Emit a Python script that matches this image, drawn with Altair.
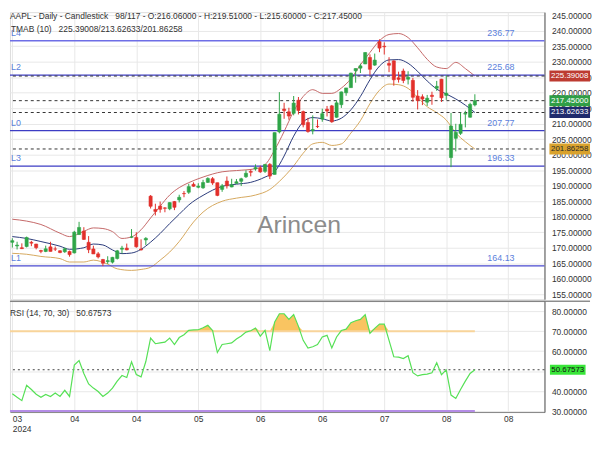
import altair as alt
import pandas as pd

# ---------------- data ----------------
opens = [171.76,170.57,170.00,170.41,171.75,171.19,169.08,168.79,170.29,169.59,
         169.03,168.70,168.80,168.34,174.26,175.36,171.75,169.61,168.03,166.21,
         165.52,165.35,166.54,169.53,169.88,173.37,173.33,169.58,172.51,186.65,
         182.35,183.45,182.85,182.56,184.90,185.44,187.51,187.91,190.47,189.51,
         189.33,191.09,192.27,190.98,188.82,191.51,189.61,190.76,191.44,192.90,
         194.64,195.40,195.69,194.65,196.90,193.65,207.37,214.74,213.85,213.37,
         217.59,213.93,210.39,207.72,209.15,211.50,214.69,215.77,212.09,216.15,
         220.00,221.65,227.09,227.93,229.30,231.39,228.92,236.48,235.00,229.45,
         230.28,224.82,227.01,224.37,224.00,218.93,218.70,216.96,219.19,221.44,
         224.37,219.15,199.09,205.30,206.90,213.11,212.10,216.06]
highs = [173.05,171.94,171.42,173.60,172.23,171.25,169.34,170.68,171.92,170.39,
         169.20,170.08,169.09,175.46,178.36,176.63,173.76,170.65,168.64,166.40,
         167.26,167.05,169.30,170.61,171.34,176.03,174.99,172.71,173.42,187.00,
         184.20,184.90,183.07,184.66,185.09,187.10,188.30,190.65,191.10,190.81,
         191.92,192.73,192.82,191.00,190.58,193.00,192.25,192.18,192.57,194.99,
         195.32,196.90,196.50,196.94,197.30,207.16,220.20,216.75,215.17,218.95,
         218.63,214.24,211.89,212.70,211.38,214.86,215.74,216.07,217.51,220.38,
         221.55,226.45,227.85,229.40,233.08,232.39,232.64,237.23,236.27,231.46,
         230.44,226.80,227.78,226.94,224.80,220.85,219.49,219.30,220.33,223.82,
         224.48,225.60,213.50,209.99,213.64,214.20,216.78,219.51]
lows = [170.06,169.45,169.58,170.11,170.51,169.48,168.23,168.58,168.82,168.95,
        168.24,168.35,167.11,168.16,174.21,172.50,168.27,168.00,166.55,164.08,
        164.77,164.92,166.21,168.15,169.18,173.10,170.00,169.11,170.89,182.66,
        180.42,181.32,181.45,182.11,182.13,184.62,186.29,187.37,189.66,189.18,
        189.01,190.92,190.27,186.63,188.04,189.10,189.51,190.63,189.91,192.52,
        193.03,194.87,194.17,194.14,192.15,193.63,206.90,211.60,211.30,212.72,
        213.00,208.85,207.11,206.59,208.61,210.64,212.35,210.30,211.92,215.10,
        219.03,221.65,223.25,226.37,229.25,225.77,228.68,233.09,232.33,226.64,
        222.27,223.28,223.09,222.68,217.13,214.62,216.01,215.75,216.12,220.63,
        217.02,217.71,196.00,201.07,206.39,208.83,211.97,215.60]
closes = [172.28,170.85,169.71,173.31,171.48,170.03,168.84,169.65,168.82,169.58,
          168.45,169.67,167.78,175.04,176.55,172.69,169.38,168.00,167.04,165.00,
          165.84,166.90,169.02,169.89,169.30,173.50,170.33,169.30,173.03,183.38,
          181.71,182.40,182.74,184.57,183.05,186.28,187.43,189.72,189.84,189.87,
          191.04,192.35,190.90,186.88,189.98,189.99,190.29,191.29,192.25,194.03,
          194.35,195.87,194.48,196.89,193.12,207.15,213.07,214.24,212.49,216.67,
          214.29,209.68,207.49,208.14,209.07,213.25,214.10,210.62,216.75,220.27,
          221.55,226.34,227.82,228.68,232.98,227.57,230.54,234.40,234.82,228.88,
          224.18,224.31,223.96,225.01,218.54,217.49,217.96,218.24,218.80,222.08,
          218.36,219.86,209.27,207.23,209.82,213.31,216.24,217.45]

rsi_vals = [38.7,36.9,35.2,42.9,40.8,38.4,36.9,38.3,37.3,39.0,
            37.3,40.4,37.3,53.0,55.3,48.8,43.6,41.5,39.8,37.3,
            39.0,41.5,45.0,47.8,46.8,54.6,48.3,47.1,54.8,66.5,
            63.7,64.1,64.5,66.5,63.3,66.8,68.2,70.4,70.6,70.7,
            71.7,72.9,70.3,59.3,63.3,63.7,64.1,66.1,67.6,69.5,
            70.2,71.6,67.5,70.4,60.2,74.5,78.7,78.7,75.9,78.3,
            72.4,65.4,61.5,62.2,63.3,67.1,67.9,61.6,67.1,70.3,
            71.0,74.2,75.2,75.9,78.3,68.9,71.4,73.5,73.5,65.4,
            57.2,57.0,56.3,57.7,49.2,47.6,48.2,48.5,49.2,54.2,
            48.2,50.6,38.0,36.3,40.8,45.0,48.8,50.68]

upper_idx = [0,3,6,10,12,15,17,19,21,23,25,27,29,31,33,35,37,40,44,47,
             51,53,55,57,59,61,63,65,67,69,71,73,75,77,79,81,83,85,87,89,
             91,93,95,97]
upper_val = [179.2,178.6,177.5,174.7,173.6,175.3,176.4,176.2,175.2,173.0,
             173.5,175.8,179.6,183.4,187.0,189.4,191.0,192.8,194.5,194.9,
             195.5,196.8,201.5,207.5,214.0,218.8,221.0,219.8,219.8,221.5,
             224.5,229.0,233.0,236.8,238.8,239.1,237.8,234.5,230.8,228.3,
             227.8,229.8,227.8,225.39]
mid_idx = [0,3,6,10,12,15,17,19,21,23,25,27,29,31,33,35,37,40,44,47,
           50,53,55,57,59,61,63,65,67,69,71,73,75,77,79,81,83,85,87,89,
           91,93,95,97]
mid_val = [173.6,173.0,172.0,170.5,169.5,170.0,171.2,170.9,169.3,168.1,
           168.3,169.5,171.8,174.6,177.8,180.8,183.8,186.9,189.8,190.5,
           191.1,192.8,194.5,199.6,206.0,210.6,212.0,211.6,210.9,211.8,
           214.5,218.8,224.2,228.6,230.6,230.7,229.5,226.9,223.8,221.2,
           219.6,218.0,216.0,213.63]
low_idx = [0,3,6,10,12,15,17,20,22,25,27,29,31,33,35,38,40,44,47,51,
           54,56,59,61,63,65,67,69,71,73,75,77,79,81,83,85,87,89,91,93,
           95,97]
low_val = [168.2,167.9,167.2,166.5,165.4,165.4,166.0,164.7,163.2,162.7,
           163.0,163.7,166.0,168.6,172.0,178.3,181.5,185.0,186.0,187.0,
           188.8,191.4,196.4,200.5,203.5,204.0,203.0,203.5,207.0,211.0,
           216.5,220.8,222.8,222.6,221.4,218.5,215.5,213.6,211.2,207.0,
           204.2,201.86]

level_names = ["L4", "L2", "L0", "L3", "L1"]
level_vals = [236.77, 225.68, 207.77, 196.33, 164.13]
level_text = ["236.77", "225.68", "207.77", "196.33", "164.13"]
level_cols = ["#6e6ee6", "#3d3dc4", "#3d3dc4", "#3d3dc4", "#4a4ad0"]

dash_vals = [225.39008, 217.45, 213.62633, 201.86258]
badge_vals = [225.39008, 217.45000, 213.62633, 201.86258]
badge_text = ["225.39008", "217.45000", "213.62633", "201.86258"]
badge_fill = ["#bd3b31", "#2f9e46", "#1f2b6d", "#d9a22c"]
badge_tcol = ["#ffffff", "#ffffff", "#ffffff", "#2a2a2a"]

tick_idx = [0, 13, 26, 39, 52, 65, 78, 91, 104]
tick_lab = ["03", "04", "04", "05", "06", "06", "07", "08", "08"]
year_lab = "2024"
price_ticks = list(range(155, 250, 5))
rsi_ticks = [30, 40, 50, 60, 70, 80]
rsi_last = 50.67573
rsi_hi, rsi_lo = 70, 30

title1 = "AAPL - Daily - Candlestick\u00a0\u00a0\u00a098/117 - O:216.06000 - H:219.51000 - L:215.60000 - C:217.45000"
title2 = "TMAB (10)\u00a0\u00a0\u00a0225.39008/213.62633/201.86258"
rsi_title = "RSI (14, 70, 30)\u00a0\u00a0\u00a050.67573"
watermark = "Arincen"

# ---------------- styles ----------------
GREEN = "#2fa548"
RED = "#e2302b"
BAND_COLS = {"upper": "#c46868", "mid": "#2b3b7a", "lower": "#d6a85e"}
FONT = "Liberation Sans"
FS = 8.5
W, HP, HR = 540, 290, 112
XDOM = [-0.49, 111.6]

N = len(closes)
cdf = pd.DataFrame({"i": list(range(N)), "open": opens, "high": highs,
                    "low": lows, "close": closes})
cdf["col"] = [GREEN if c >= o else RED for o, c in zip(opens, closes)]

bands = pd.concat([
    pd.DataFrame({"band": "upper", "i": upper_idx, "v": upper_val}),
    pd.DataFrame({"band": "mid", "i": mid_idx, "v": mid_val}),
    pd.DataFrame({"band": "lower", "i": low_idx, "v": low_val}),
])
bands["col"] = bands["band"].map(BAND_COLS)

xscale = alt.Scale(domain=XDOM, nice=False, zero=False)
yscale = alt.Scale(domain=[153.4, 246.0], nice=False, zero=False)
rscale = alt.Scale(domain=[29.5, 85.0], nice=False, zero=False)

xaxis_p = alt.Axis(values=tick_idx, labels=False, ticks=False, domain=False,
                   grid=True, gridColor="#e8e8e8", title=None)
yaxis_p = alt.Axis(orient="right", values=price_ticks, format=".5f", grid=True,
                   gridColor="#e8e8e8", ticks=False, domain=True,
                   domainColor="#555", labelPadding=7, labelFontSize=FS,
                   labelColor="#333", title=None, labelFlush=False)

labs_js = "[" + ",".join("'%s'" % l for l in tick_lab) + "]"
idx_js = "[" + ",".join(str(t) for t in tick_idx) + "]"
xexpr = ("datum.value == %d ? ['%s', '%s'] : %s[indexof(%s, datum.value)]"
         % (tick_idx[0], tick_lab[0], year_lab, labs_js, idx_js))
xaxis_r = alt.Axis(values=tick_idx, labelExpr=xexpr, grid=True, gridColor="#e8e8e8",
                   ticks=False, domain=True, domainColor="#888", labelPadding=3,
                   labelFontSize=FS, labelLineHeight=9.5, labelColor="#333",
                   labelFlush=False, labelBaseline="top", title=None,
                   labelAlign={"condition": {"test": "datum.value <= 0", "value": "left"},
                               "value": "center"})
yaxis_r = alt.Axis(orient="right", values=rsi_ticks,
                   labelExpr="datum.value == 50 ? '' : format(datum.value, '.5f')",
                   grid=True, gridColor="#e8e8e8", ticks=False, domain=True,
                   domainColor="#555", labelPadding=7, labelFontSize=FS,
                   labelColor="#333", title=None, labelFlush=False)


def X(f):
    return alt.X(f, type="quantitative", scale=xscale, axis=xaxis_p)


def Y(f):
    return alt.Y(f, type="quantitative", scale=yscale, axis=yaxis_p)


def XR(f):
    return alt.X(f, type="quantitative", scale=xscale, axis=xaxis_r)


def YR(f):
    return alt.Y(f, type="quantitative", scale=rscale, axis=yaxis_r)


def C(f):
    return alt.Color(f, type="nominal", scale=None)


# ---------------- price panel ----------------
lv = pd.DataFrame({"name": level_names, "v": level_vals, "t": level_text, "col": level_cols})
dv = pd.DataFrame({"v": dash_vals})
bv = pd.DataFrame({"v": badge_vals, "t": badge_text, "f": badge_fill, "tc": badge_tcol})

base_grid = alt.Chart(cdf).mark_point(opacity=0).encode(x=X("i"), y=Y("close"))

band_lines = alt.Chart(bands).mark_line(interpolate="monotone", strokeWidth=1).encode(
    x=X("i"), y=Y("v"), color=C("col"), detail="band:N")

level_rules = alt.Chart(lv).mark_rule(strokeWidth=1.3).encode(y=Y("v"), color=C("col"))
dash_rules = alt.Chart(dv).mark_rule(color="#333", strokeWidth=1, strokeDash=[3, 3]).encode(y=Y("v"))

level_lab = alt.Chart(lv).mark_text(align="left", dy=-8, fontSize=FS + 0.5, color="#5b7fdc").encode(
    x=alt.value(1), y=Y("v"), text="name:N")
level_val = alt.Chart(lv).mark_text(align="center", dy=-8, fontSize=FS + 0.5, color="#5b7fdc").encode(
    x=alt.value(496), y=Y("v"), text="t:N")

wicks = alt.Chart(cdf).mark_rule(strokeWidth=1).encode(
    x=X("i"), y=Y("low"), y2="high", color=C("col"))
bodies = alt.Chart(cdf).transform_calculate(
    b0="datum.i - 0.33", b1="datum.i + 0.33").mark_rect(strokeWidth=0.6).encode(
    x=X("b0"), x2="b1", y=Y("open"), y2="close",
    color=C("col"), stroke=alt.Stroke("col", type="nominal", scale=None))

tdf = pd.DataFrame({"t1": [title1], "t2": [title2], "w": [watermark]})
t1 = alt.Chart(tdf).mark_text(align="left", baseline="top", fontSize=FS, color="#333").encode(
    x=alt.value(0), y=alt.value(0), text="t1:N")
t2 = alt.Chart(tdf).mark_text(align="left", baseline="middle", fontSize=FS, color="#333").encode(
    x=alt.value(1), y=alt.value(17), text="t2:N")
wm = alt.Chart(tdf).mark_text(align="center", baseline="middle", fontSize=25, color="#8c8c8c").encode(
    x=alt.value(292), y=alt.value(215), text="w:N")

BADGE = "M-1,-0.27L1,-0.27L1,0.27L-1,0.27Z"
badges = alt.Chart(bv).mark_point(shape=BADGE, size=41 * 41, filled=True, opacity=1,
                                  strokeWidth=0).encode(
    x=alt.value(565.5), y=Y("v"), color=C("f"))
badge_t = alt.Chart(bv).mark_text(fontSize=FS - 0.5, baseline="middle").encode(
    x=alt.value(565.5), y=Y("v"), text="t:N", color=C("tc"))

price = alt.layer(base_grid, wm, band_lines, level_rules, dash_rules, wicks, bodies,
                  level_lab, level_val, t1, t2, badges, badge_t).properties(width=W, height=HP)

# ---------------- RSI panel ----------------
rdf = pd.DataFrame({"i": list(range(N)), "rsi": rsi_vals})
lines_df = pd.DataFrame({"a": [XDOM[0], XDOM[0]], "b": [N - 1, N - 1],
                         "lvl": [rsi_hi, rsi_lo], "col": ["#f8d49a", "#b48ce6"]})
rlast = pd.DataFrame({"v": [rsi_last], "t": ["%.5f" % rsi_last], "rt": [rsi_title]})

r_base = alt.Chart(rdf).mark_point(opacity=0).encode(x=XR("i"), y=YR("rsi"))
r_area = alt.Chart(rdf).transform_calculate(top="max(datum.rsi, %d)" % rsi_hi).mark_area(
    color="#f9c158", opacity=0.95).encode(x=XR("i"), y=YR("top:Q"), y2=alt.datum(rsi_hi))
r_lvls = alt.Chart(lines_df).mark_rule(strokeWidth=2).encode(
    x=XR("a"), x2="b", y=YR("lvl"), color=C("col"))
r_dash = alt.Chart(rlast).mark_rule(color="#444", strokeWidth=1, strokeDash=[2, 3]).encode(y=YR("v"))
r_line = alt.Chart(rdf).mark_line(color="#56e056", strokeWidth=1.2).encode(x=XR("i"), y=YR("rsi"))
r_title = alt.Chart(rlast).mark_text(align="left", baseline="middle", fontSize=FS, color="#333").encode(
    x=alt.value(0), y=alt.value(12), text="rt:N")
r_sep = alt.Chart(rlast).mark_rule(color="#555", strokeWidth=1).encode(
    x=alt.value(0), x2=alt.value(586), y=alt.value(0))
r_badge = alt.Chart(rlast).mark_point(shape="M-1,-0.28L1,-0.28L1,0.28L-1,0.28Z", size=36 * 36,
                                      filled=True, opacity=1, strokeWidth=0, color="#39e639").encode(
    x=alt.value(563.5), y=YR("v"))
r_badge_t = alt.Chart(rlast).mark_text(fontSize=FS - 0.5, baseline="middle", color="#111").encode(
    x=alt.value(563.5), y=YR("v"), text="t:N")

rsi_chart = alt.layer(r_base, r_area, r_lvls, r_dash, r_line, r_title, r_sep,
                      r_badge, r_badge_t).properties(width=W, height=HR)

chart = alt.vconcat(price, rsi_chart, spacing=0).properties(padding=0).configure_view(
    stroke=None).configure(font=FONT)

chart.save("out.html", embed_options={"renderer": "svg", "actions": False})
